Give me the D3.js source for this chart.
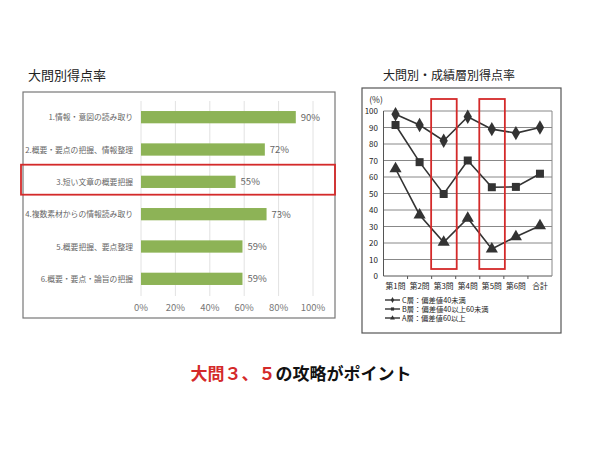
<!DOCTYPE html>
<html>
<head>
<meta charset="utf-8">
<title>大問別得点率</title>
<script src="https://cdn.jsdelivr.net/npm/d3@7"></script>
<style>
body { margin: 0; background: #fff; }
text { font-family: "Noto Sans CJK JP", "Noto Sans", sans-serif; }
</style>
</head>
<body>
<script>
// left chart data
var questions = ["1.情報・意図の読み取り", "2.概要・要点の把握、情報整理", "3.短い文章の概要把握",
                 "4.複数素材からの情報読み取り", "5.概要把握、要点整理", "6.概要・要点・論旨の把握"];
var rates = [90, 72, 55, 73, 59, 59];
var pctTicks = [0, 20, 40, 60, 80, 100];

// right chart data
var cats = ["第1問", "第2問", "第3問", "第4問", "第5問", "第6問", "合計"];
var seriesNames = ["C層：偏差値40未満", "B層：偏差値40以上60未満", "A層：偏差値60以上"];
var cVals = [98, 91.5, 82, 96.5, 89, 86.6, 90];
var bVals = [91.5, 69, 49.7, 70, 53.8, 54, 62];
var aVals = [65, 37, 20.4, 35, 16.4, 23.8, 30.5];
var yTicks = [0, 10, 20, 30, 40, 50, 60, 70, 80, 90, 100];
var highlightCats = ["第3問", "第5問"];

var svg = d3.select("body").append("svg").attr("width", 600).attr("height", 450);

// ---------- left: bar chart ----------
svg.append("text").text("大問別得点率").attr("x", 28).attr("y", 80)
  .attr("font-size", 13).attr("fill", "#222");
svg.append("rect").attr("x", 23).attr("y", 92).attr("width", 312).attr("height", 226)
  .attr("fill", "none").attr("stroke", "#777").attr("stroke-width", 1.2);

var x = d3.scaleLinear().domain([0, 100]).range([141, 313]);
var y = d3.scaleBand().domain(questions).range([101, 295]).paddingInner(0.62).paddingOuter(0.31);

svg.append("g").selectAll("line").data(pctTicks).enter().append("line")
  .attr("x1", function(d){ return x(d); }).attr("x2", function(d){ return x(d); })
  .attr("y1", 101).attr("y2", 296).attr("stroke", "#e2e2e2");

svg.append("g").selectAll("rect").data(rates).enter().append("rect")
  .attr("x", x(0)).attr("y", function(d, i){ return y(questions[i]); })
  .attr("width", function(d){ return x(d) - x(0); }).attr("height", y.bandwidth())
  .attr("fill", "#8db356");

svg.append("g").selectAll("text").data(rates).enter().append("text")
  .attr("x", function(d){ return x(d) + 5; })
  .attr("y", function(d, i){ return y(questions[i]) + y.bandwidth() / 2 + 3.5; })
  .attr("font-size", 9.5).attr("fill", "#666").text(function(d){ return d + "%"; });

svg.append("g").selectAll("text").data(questions).enter().append("text")
  .attr("x", 133).attr("y", function(d){ return y(d) + y.bandwidth() / 2 + 3; })
  .attr("text-anchor", "end").attr("font-size", 7.8).attr("fill", "#666").text(function(d){ return d; });

svg.append("g").selectAll("text").data(pctTicks).enter().append("text")
  .attr("x", function(d){ return x(d); }).attr("y", 311).attr("text-anchor", "middle")
  .attr("font-size", 9.5).attr("fill", "#777").text(function(d){ return d + "%"; });

// highlight row 3
svg.append("rect").attr("x", 21).attr("y", y(questions[2]) - 11).attr("width", 314).attr("height", 30)
  .attr("fill", "none").attr("stroke", "#d42a2a").attr("stroke-width", 1.8);

// ---------- right: line chart ----------
svg.append("text").text("大問別・成績層別得点率").attr("x", 449).attr("y", 80).attr("text-anchor", "middle")
  .attr("font-size", 12).attr("fill", "#222");
svg.append("rect").attr("x", 362).attr("y", 88).attr("width", 199).attr("height", 245)
  .attr("fill", "none").attr("stroke", "#555").attr("stroke-width", 1.2);

var lx = d3.scaleBand().domain(cats).range([383.5, 552]);
var ly = d3.scaleLinear().domain([0, 100]).range([276, 111]);
var cx = function(c){ return lx(c) + lx.bandwidth() / 2; };

svg.append("g").selectAll("line").data(yTicks).enter().append("line")
  .attr("x1", 383.5).attr("x2", 552).attr("y1", function(d){ return ly(d); }).attr("y2", function(d){ return ly(d); })
  .attr("stroke", function(d){ return d === 0 ? "#555" : "#888"; }).attr("stroke-width", 1);
svg.append("line").attr("x1", 383.5).attr("x2", 383.5).attr("y1", 111).attr("y2", 276).attr("stroke", "#555");
svg.append("line").attr("x1", 552).attr("x2", 552).attr("y1", 111).attr("y2", 276).attr("stroke", "#888");

// x tick marks
svg.append("g").selectAll("line").data(cats.slice(1)).enter().append("line")
  .attr("x1", function(d){ return lx(d); }).attr("x2", function(d){ return lx(d); })
  .attr("y1", 276).attr("y2", 279).attr("stroke", "#555");

svg.append("g").selectAll("text").data(yTicks).enter().append("text")
  .attr("x", 378).attr("y", function(d){ return ly(d) + 3; }).attr("text-anchor", "end")
  .attr("font-size", 8).attr("font-family", "DejaVu Serif, serif").attr("fill", "#222").text(function(d){ return d; });
svg.append("text").attr("x", 376).attr("y", 103).attr("text-anchor", "middle").attr("font-size", 8.5)
  .attr("font-family", "DejaVu Serif, serif").attr("fill", "#222").text("(%)");

svg.append("g").selectAll("text").data(cats).enter().append("text")
  .attr("x", cx).attr("y", 289).attr("text-anchor", "middle")
  .attr("font-size", 7.8).attr("fill", "#222").text(function(d){ return d; });

var line = d3.line().x(function(d, i){ return cx(cats[i]); }).y(function(d){ return ly(d); });
var allSeries = [cVals, bVals, aVals];
var shapes = [d3.symbolDiamond, d3.symbolSquare, d3.symbolTriangle];
var sizes = [60, 64, 64];

allSeries.forEach(function(vals, s){
  svg.append("path").attr("d", line(vals)).attr("fill", "none").attr("stroke", "#333").attr("stroke-width", 1.6);
  svg.append("g").selectAll("path").data(vals).enter().append("path")
    .attr("transform", function(d, i){ return "translate(" + cx(cats[i]) + "," + ly(d) + ")"; })
    .attr("d", d3.symbol().type(shapes[s]).size(sizes[s])).attr("fill", "#333");
});

// red highlight boxes
svg.append("g").selectAll("rect").data(highlightCats).enter().append("rect")
  .attr("x", function(d){ return lx(d) - 0.5; }).attr("y", 99)
  .attr("width", lx.bandwidth() + 1.5).attr("height", 170)
  .attr("fill", "none").attr("stroke", "#d42a2a").attr("stroke-width", 1.8);

// legend
var lg = svg.append("g").selectAll("g").data(seriesNames).enter().append("g")
  .attr("transform", function(d, i){ return "translate(385," + (300 + i * 9) + ")"; });
lg.append("line").attr("x1", 0).attr("x2", 15).attr("stroke", "#333").attr("stroke-width", 1.4);
lg.append("path").attr("transform", "translate(7.5,0)")
  .attr("d", function(d, i){ return d3.symbol().type(shapes[i]).size(10)(); }).attr("fill", "#333");
lg.append("text").attr("x", 17).attr("y", 3).attr("font-size", 7.3).attr("fill", "#222").text(function(d){ return d; });

// ---------- bottom caption ----------
var cap = svg.append("text").attr("x", 301).attr("y", 380).attr("text-anchor", "middle")
  .attr("font-size", 17).attr("font-weight", "bold");
cap.append("tspan").attr("fill", "#d42a2a").text("大問３、５");
cap.append("tspan").attr("fill", "#111").text("の攻略がポイント");
</script>
</body>
</html>
